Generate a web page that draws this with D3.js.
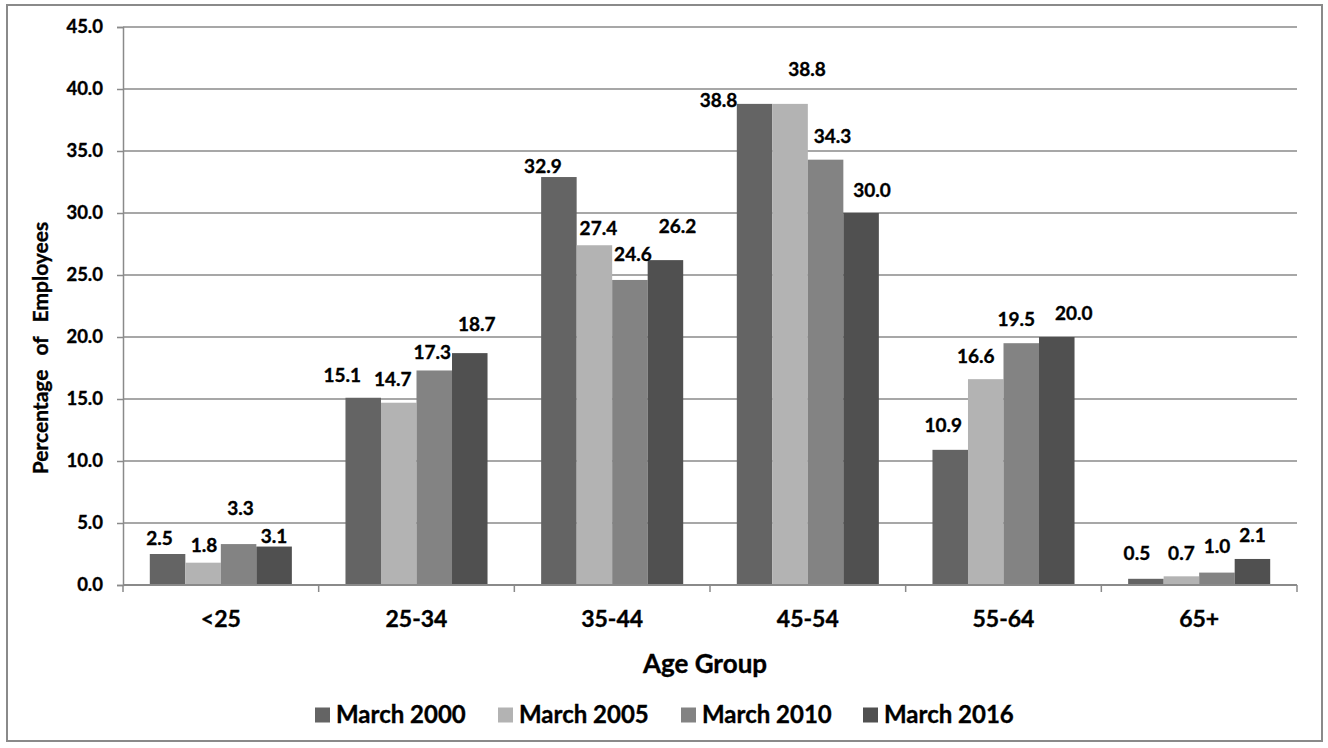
<!DOCTYPE html>
<html>
<head>
<meta charset="utf-8">
<script src="https://cdn.jsdelivr.net/npm/d3@7"></script>
<style>
  html, body { margin: 0; padding: 0; background: #ffffff; }
  svg { display: block; font-family: Lato, "Open Sans", "Liberation Sans", sans-serif; font-weight: bold; }
  svg text { stroke: #000; stroke-width: 0.35px; }
</style>
</head>
<body>
<svg id="chart" width="1328" height="748"></svg>
<script>
// Age groups along the x axis
const categories = ["<25", "25-34", "35-44", "45-54", "55-64", "65+"];

// Survey snapshots (one bar per group for each)
const seriesNames = ["March 2000", "March 2005", "March 2010", "March 2016"];

// Percentage of employees in each age group, per snapshot
const march2000 = [2.5, 15.1, 32.9, 38.8, 10.9, 0.5];
const march2005 = [1.8, 14.7, 27.4, 38.8, 16.6, 0.7];
const march2010 = [3.3, 17.3, 24.6, 34.3, 19.5, 1.0];
const march2016 = [3.1, 18.7, 26.2, 30.0, 20.0, 2.1];

// Value axis ticks
const yTicks = [0, 5, 10, 15, 20, 25, 30, 35, 40, 45];

const seriesValues = [march2000, march2005, march2010, march2016];
const colors = ["#646464", "#b3b3b3", "#838383", "#505050"];

// Hand-placed nudges for the value labels [dx, dy] relative to bar centre / bar top
const labelNudge = [
  [[-8, -16], [-21, -22], [-16, -11], [-36, -4], [-7, -24], [-9, -25]],
  [[1, -17], [-6, -23], [4, -17], [17, -35], [-10, -23], [0, -23]],
  [[2, -36], [-2, -18], [3, -26], [7, -23], [-5, -24], [0, -26]],
  [[0, -10], [7, -29], [12, -34], [11, -23], [17, -24], [0, -24]]
];

const svg = d3.select("#chart");
const gridColor = "#8a8a8a";

// Outer chart frame
svg.append("rect")
  .attr("x", 7).attr("y", 5)
  .attr("width", 1315).attr("height", 736)
  .attr("fill", "#fff")
  .attr("stroke", gridColor)
  .attr("stroke-width", 2);

const plot = { left: 123, right: 1297, top: 27, bottom: 585 };

const y = d3.scaleLinear().domain([0, 45]).range([plot.bottom, plot.top]);
const x0 = d3.scaleBand().domain(categories)
  .range([plot.left, plot.right]).paddingInner(0.274).paddingOuter(0.137);
const x1 = d3.scaleBand().domain(seriesNames).range([0, x0.bandwidth()]);
const step = x0.step();

// Horizontal gridlines
svg.append("g")
  .selectAll("line")
  .data(yTicks.filter(d => d > 0))
  .join("line")
  .attr("x1", plot.left).attr("x2", plot.right)
  .attr("y1", d => y(d)).attr("y2", d => y(d))
  .attr("stroke", gridColor).attr("stroke-width", 1.5);

// Y axis
const yAxis = d3.axisLeft(y).tickValues(yTicks).tickFormat(d3.format(".1f")).tickSize(6).tickPadding(14);
const gy = svg.append("g").attr("transform", `translate(${plot.left},0)`).call(yAxis);
gy.select(".domain").attr("stroke", gridColor).attr("stroke-width", 1.5);
gy.selectAll(".tick line").attr("stroke", gridColor).attr("stroke-width", 1.5);
gy.selectAll(".tick text")
  .attr("fill", "#000").attr("font-size", 18.5).attr("font-weight", "bold")
  .attr("font-family", "Lato, sans-serif");

// Bars
const groups = svg.append("g")
  .selectAll("g")
  .data(categories)
  .join("g")
  .attr("transform", d => `translate(${x0(d)},0)`);

groups.selectAll("rect")
  .data((c, i) => seriesNames.map((s, k) => ({ s, k, v: seriesValues[k][i] })))
  .join("rect")
  .attr("x", d => x1(d.s))
  .attr("width", x1.bandwidth())
  .attr("y", d => y(d.v))
  .attr("height", d => y(0) - y(d.v))
  .attr("fill", d => colors[d.k]);

// X axis baseline and category boundary ticks
svg.append("line")
  .attr("x1", plot.left).attr("x2", plot.right)
  .attr("y1", plot.bottom).attr("y2", plot.bottom)
  .attr("stroke", gridColor).attr("stroke-width", 2);
svg.append("g")
  .selectAll("line")
  .data(d3.range(categories.length + 1))
  .join("line")
  .attr("x1", i => plot.left + i * step).attr("x2", i => plot.left + i * step)
  .attr("y1", plot.bottom).attr("y2", plot.bottom + 7)
  .attr("stroke", gridColor).attr("stroke-width", 1.5);

// Category labels
svg.append("g")
  .selectAll("text")
  .data(categories)
  .join("text")
  .attr("x", d => x0(d) + x0.bandwidth() / 2)
  .attr("y", 619)
  .attr("dy", "0.35em")
  .attr("text-anchor", "middle")
  .attr("font-size", 23)
  .text(d => d);

// Value labels
groups.selectAll("text")
  .data((c, i) => seriesNames.map((s, k) => ({ s, k, i, v: seriesValues[k][i] })))
  .join("text")
  .attr("x", d => x1(d.s) + x1.bandwidth() / 2 + labelNudge[d.k][d.i][0])
  .attr("y", d => y(d.v) + labelNudge[d.k][d.i][1])
  .attr("dy", "0.35em")
  .attr("text-anchor", "middle")
  .attr("font-size", 19)
  .attr("fill", "#000")
  .text(d => d3.format(".1f")(d.v));

// Axis titles
svg.append("text")
  .attr("x", (plot.left + plot.right) / 2 - 5)
  .attr("y", 664)
  .attr("dy", "0.35em")
  .attr("text-anchor", "middle")
  .attr("font-size", 26)
  .text("Age Group");

svg.append("text")
  .attr("transform", "translate(41,348) rotate(-90)")
  .attr("dy", "0.35em")
  .attr("text-anchor", "middle")
  .attr("font-size", 21)
  .attr("word-spacing", 9)
  .text("Percentage of Employees");

// Legend
const legendX = [315, 498, 681, 863];
const legend = svg.append("g")
  .selectAll("g")
  .data(seriesNames)
  .join("g")
  .attr("transform", (d, i) => `translate(${legendX[i]},715)`);
legend.append("rect")
  .attr("x", 0).attr("y", -7.5)
  .attr("width", 15).attr("height", 15)
  .attr("fill", (d, i) => colors[i]);
legend.append("text")
  .attr("x", 21).attr("y", 0)
  .attr("dy", "0.35em")
  .attr("font-size", 24)
  .text(d => d);
</script>
</body>
</html>
